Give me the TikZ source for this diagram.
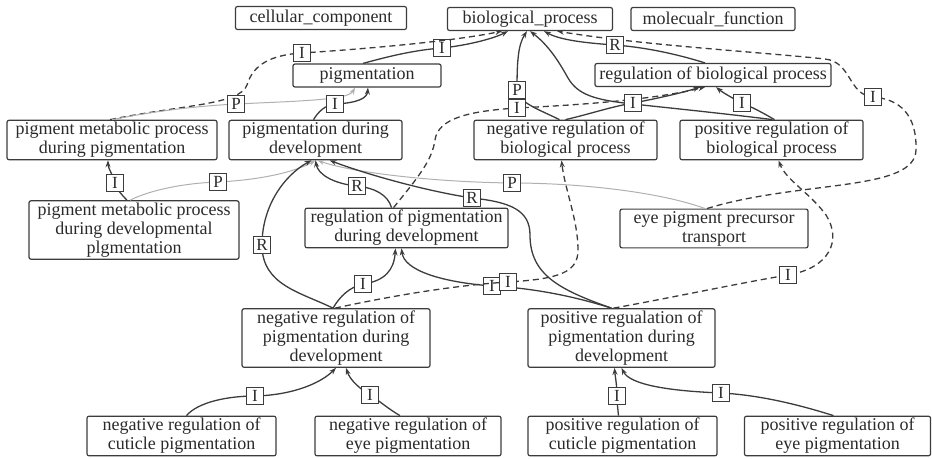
\documentclass[tikz,border=0pt]{standalone}
\usepackage{fontspec}
\setmainfont{Liberation Serif}
\usepackage{tikz}
\usetikzlibrary{shapes,arrows.meta}

\definecolor{boxline}{HTML}{3C3C3C}
\definecolor{inktext}{HTML}{2A2A2A}
\definecolor{arcgray}{HTML}{B0B0B0}
\newcommand\termsize{\fontsize{18}{19}\selectfont}
\newcommand\tagsize{\fontsize{17}{17}\selectfont}

\begin{document}
\begin{tikzpicture}[x=1pt, y=-1pt, >={Stealth[length=7pt,width=5pt]},
  term/.style={rectangle, draw=boxline, line width=1.2pt, rounded corners=2pt, text=inktext, align=center, inner xsep=3pt, inner ysep=2pt, minimum height=23pt, font=\termsize},
  tag/.style={rectangle, draw=boxline, solid, fill=white, line width=1pt, text=inktext, inner sep=0pt, minimum size=17pt, font=\tagsize},
  solidarc/.style={->, draw=boxline, line width=1.3pt},
  dasharc/.style={solidarc, dash pattern=on 6pt off 4pt},
  grayarc/.style={->, draw=arcgray, line width=1pt}]
\useasboundingbox (0,0) rectangle (932,458);

% ontology roots
\node (cellular) [term, minimum width=171pt] at (321,18) {cellular\_component};
\node (bioprocess) [term, minimum width=165pt] at (530,19) {biological\_process};
\node (molecular) [term, minimum width=164pt] at (713,19) {molecualr\_function};

\node (pigmentation) [term, minimum width=148pt] at (367,75.5) {pigmentation};
\node (regbio) [term, minimum width=236pt] at (713,75) {regulation of biological process};

\node (pigmetab) [term, minimum width=210pt] at (112,140) {pigment metabolic process\\during pigmentation};
\node (pigdev) [term, minimum width=173pt] at (315.5,140) {pigmentation during\\development};
\node (negbio) [term, minimum width=183pt] at (565.5,140) {negative regulation of\\biological process};
\node (posbio) [term, minimum width=183pt] at (771.5,140) {positive regulation of\\biological process};

\node (pigmetabdev) [term, minimum width=210pt] at (134,230) {pigment metabolic process\\during developmental\\plgmentation};
\node (regpigdev) [term, minimum width=203pt] at (406.5,228) {regulation of pigmentation\\during development};
\node (eyetransport) [term, minimum width=188pt] at (714,228.5) {eye pigment precursor\\transport};

\node (negpigdev) [term, minimum width=188pt] at (336,338) {negative regulation of\\pigmentation during\\development};
\node (pospigdev) [term, minimum width=187pt] at (621.5,338) {positive regualation of\\pigmentation during\\development};

\node (negcuticle) [term, minimum width=189pt] at (181.5,436) {negative regulation of\\cuticle pigmentation};
\node (negeye) [term, minimum width=186pt] at (408,436) {negative regulation of\\eye pigmentation};
\node (poscuticle) [term, minimum width=189pt] at (622.5,436) {positive regulation of\\cuticle pigmentation};
\node (poseye) [term, minimum width=186pt] at (837.5,436) {positive regulation of\\eye pigmentation};

% links into biological_process
\draw [solidarc] ([xshift=-4pt]pigmentation.north) .. controls (390,56) and (415,50) .. (442,48) node[tag] {I} .. controls (470,45) and (495,38) .. ([xshift=-22pt]bioprocess.south);
\draw [dasharc] ([xshift=-2pt]pigmetab.north) .. controls (180,105) and (240,105) .. (247,85) .. controls (253,65) and (270,55) .. (302,53) node[tag] {I} .. controls (380,48) and (460,40) .. ([xshift=-28pt]bioprocess.south);
\draw [dasharc] ([xshift=-7pt]eyetransport.north) .. controls (800,180) and (915,192) .. (916,150) .. controls (917,115) and (900,99) .. (873,97) node[tag] {I} .. controls (848,95) and (852,62) .. (825,59) .. controls (760,52) and (640,45) .. ([xshift=27pt]bioprocess.south);
\draw [solidarc] ([xshift=-8pt]regbio.north) .. controls (670,52) and (640,47) .. (615,45) node[tag] {R} .. controls (585,43) and (560,40) .. ([xshift=14pt]bioprocess.south);
\draw [solidarc] ([xshift=1pt]posbio.north) .. controls (720,113) and (660,107) .. (633,104) .. controls (595,100) and (578,95) .. (568,78) .. controls (558,60) and (548,45) .. (bioprocess.south);
\draw [solidarc] ([xshift=-6pt]negbio.north) .. controls (540,110) and (517,102) .. (517,90) node[tag] {P} .. controls (517,62) and (518,45) .. ([xshift=-3pt]bioprocess.south);

% links into regulation of biological process
\draw [dasharc] ([xshift=-13pt]regpigdev.north) .. controls (420,175) and (432,160) .. (435,140) .. controls (438,118) and (470,111) .. (517,108) node[tag] {I} .. controls (600,104) and (660,98) .. ([xshift=-8pt]regbio.south);
\draw [solidarc] (negbio.north) .. controls (590,114) and (610,107) .. (633,103) node[tag] {I} .. controls (660,98) and (685,92) .. ([xshift=-13pt]regbio.south);
\draw [solidarc] ([xshift=3pt]posbio.north) .. controls (765,114) and (752,107) .. (742,103) node[tag] {I} .. controls (732,98) and (722,92) .. ([xshift=3pt]regbio.south);

% pigmentation branch
\draw [grayarc] (pigmetab.north) .. controls (160,110) and (200,106) .. (236,104) node[tag] {P} .. controls (300,101) and (348,100) .. ([xshift=-12pt]pigmentation.south);
\draw [solidarc] ([xshift=-2pt]pigdev.north) .. controls (318,112) and (325,105) .. (335,104) node[tag] {I} .. controls (358,103) and (367,98) .. ([xshift=1pt]pigmentation.south);
\draw [solidarc] ([xshift=-7pt]pigmetabdev.north) .. controls (122,195) and (117,190) .. (115,183) node[tag] {I} .. controls (113,175) and (108,168) .. ([xshift=-4pt]pigmetab.south);
\draw [grayarc] ([xshift=-4pt]pigmetabdev.north) .. controls (150,190) and (185,183) .. (218,182) node[tag] {P} .. controls (260,180) and (295,172) .. (pigdev.south);
\draw [grayarc] ([xshift=-9pt]eyetransport.north) .. controls (660,192) and (580,183) .. (512,183) node[tag] {P} .. controls (430,182) and (350,172) .. ([xshift=2pt]pigdev.south);

% development regulation
\draw [solidarc] ([xshift=-3pt]negpigdev.north) .. controls (300,292) and (262,285) .. (262,245) node[tag] {R} .. controls (262,205) and (285,175) .. ([xshift=-4pt]pigdev.south);
\draw [solidarc] ([xshift=-3pt]negpigdev.north) .. controls (340,296) and (350,287) .. (363,284) node[tag] {I} .. controls (385,281) and (394,270) .. ([xshift=-11pt]regpigdev.south);
\draw [solidarc] ([xshift=-15pt]regpigdev.north) .. controls (388,195) and (375,188) .. (357,186) node[tag] {R} .. controls (335,184) and (318,175) .. (pigdev.south);
\draw [solidarc] ([xshift=-10pt]pospigdev.north) .. controls (560,290) and (530,275) .. (530,235) .. controls (530,210) and (510,202) .. (472,198) node[tag] {R} .. controls (420,190) and (360,172) .. ([xshift=14pt]pigdev.south);
\draw [solidarc] ([xshift=-10pt]pospigdev.north) .. controls (570,295) and (530,288) .. (492,286) node[tag] {I} .. controls (440,282) and (404,270) .. ([xshift=-5pt]regpigdev.south);
\draw [dasharc] ([xshift=-1pt]negpigdev.north) .. controls (400,294) and (460,285) .. (508,282) node[tag] {I} .. controls (560,279) and (578,272) .. (578,250) .. controls (578,220) and (565,190) .. ([xshift=-4pt]negbio.south);
\draw [dasharc] ([xshift=-8pt]pospigdev.north) .. controls (680,296) and (740,283) .. (788,275) node[tag] {I} .. controls (830,268) and (842,240) .. (826,215) .. controls (810,193) and (786,180) .. ([xshift=7pt]posbio.south);

% leaf terms
\draw [solidarc] ([xshift=5pt]negcuticle.north) .. controls (198,402) and (228,396) .. (255,396) node[tag] {I} .. controls (295,395) and (322,382) .. (negpigdev.south);
\draw [solidarc] ([xshift=-8pt]negeye.north) .. controls (390,410) and (378,400) .. (370,395) node[tag] {I} .. controls (360,389) and (350,380) .. ([xshift=10pt]negpigdev.south);
\draw [solidarc] ([xshift=-4pt]poscuticle.north) .. controls (618,410) and (617,403) .. (617,396) node[tag] {I} .. controls (617,385) and (615,375) .. ([xshift=-7pt]pospigdev.south);
\draw [solidarc] ([xshift=-4pt]poseye.north) .. controls (800,405) and (760,395) .. (721,393) node[tag] {I} .. controls (670,391) and (630,385) .. (pospigdev.south);
\end{tikzpicture}
\end{document}
